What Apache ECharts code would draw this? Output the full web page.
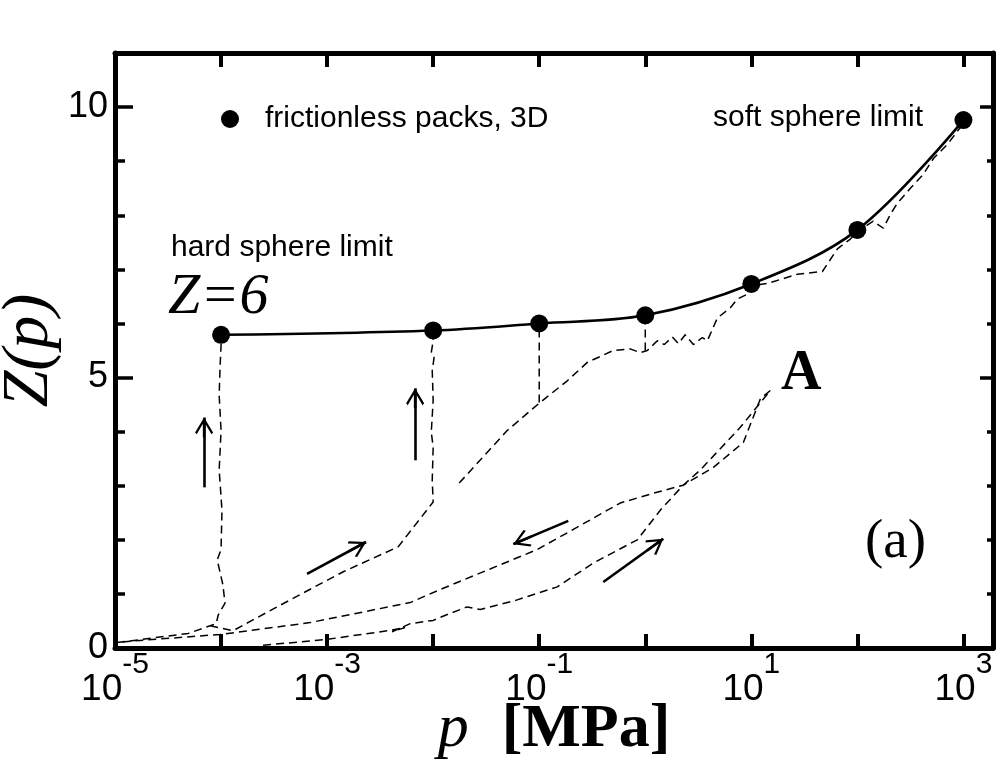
<!DOCTYPE html>
<html>
<head>
<meta charset="utf-8">
<script src="https://cdn.jsdelivr.net/npm/echarts@6/dist/echarts.min.js"></script>
<style>
  html, body { margin: 0; padding: 0; background: #fff; }
  #chart { width: 1002px; height: 766px; }
</style>
</head>
<body>
<div id="chart"></div>
<script>
// values: [p in MPa, Z]
const frictionless = [[1e-4, 5.79], [1e-2, 5.87], [1e-1, 6.0], [1, 6.15], [10, 6.73], [100, 7.73], [1000, 9.76]];

const hardBranch = [
  [1.045e-5, 0.10], [4.9e-5, 0.27], [7.1e-5, 0.38], [9.0e-5, 0.45], [9.4e-5, 0.61],
  [1.09e-4, 0.83], [1.04e-4, 1.17], [9.2e-5, 1.63], [1.0e-4, 1.82], [1.02e-4, 2.55],
  [9.6e-5, 3.29], [1.0e-4, 4.02], [9.6e-5, 4.67], [9.8e-5, 5.22], [1.0e-4, 5.59], [1.0e-4, 5.76]
];

const branchB = [
  [7.9e-5, 0.41], [1.3e-4, 0.32], [3.37e-4, 0.76], [1.42e-3, 1.41], [4.68e-3, 1.87],
  [1.0e-2, 2.70], [9.8e-3, 3.10], [1.0e-2, 3.71], [9.6e-3, 3.99], [1.0e-2, 4.58],
  [9.8e-3, 5.13], [1.02e-2, 5.37], [9.6e-3, 5.46], [1.0e-2, 5.68], [1.0e-2, 5.85]
];

const branchC = [
  [1.76e-2, 3.05], [4.99e-2, 4.02], [0.102, 4.54], [0.184, 4.94], [0.284, 5.28],
  [0.499, 5.50], [0.721, 5.53], [0.897, 5.46], [1.045, 5.50], [1.30, 5.68],
  [1.51, 5.61], [1.80, 5.75], [2.05, 5.63], [2.38, 5.79], [2.84, 5.61],
  [3.45, 5.74], [3.85, 5.68], [4.78, 6.10], [6.34, 6.29], [7.38, 6.45],
  [9.17, 6.54], [10.2, 6.70], [14.2, 6.74], [27.2, 6.91], [46.8, 6.96],
  [64.8, 7.38], [85.9, 7.56], [102, 7.71], [141, 7.89], [176, 7.76],
  [205, 8.02], [238, 8.22], [316, 8.50], [420, 8.76], [521, 9.05],
  [706, 9.31], [1000, 9.70]
];

const jumpAt01 = [[0.1, 4.54], [0.1, 5.85]];
const jumpAt1 = [[1.0, 5.50], [1.0, 6.05]];

const loopUp = [
  [2.49e-4, 0.05], [1.0e-3, 0.16], [3.76e-3, 0.32], [5.44e-3, 0.38], [4.1e-3, 0.30],
  [6.07e-3, 0.45], [1.0e-2, 0.51], [1.36e-2, 0.62], [2.09e-2, 0.76], [2.78e-2, 0.71],
  [6.2e-2, 0.89], [0.148, 1.13], [0.323, 1.57], [0.841, 2.00], [1.39, 2.55],
  [2.28, 3.01], [3.30, 3.29], [7.87, 4.08], [15.1, 4.76]
];

const loopDown = [
  [15.1, 4.76], [12.2, 4.61], [8.41, 3.80], [4.39, 3.34], [2.28, 3.01],
  [1.19, 2.86], [0.58, 2.68], [0.184, 2.13], [9.57e-2, 1.82], [1.16e-2, 1.08],
  [6.07e-3, 0.84], [6.92e-4, 0.47], [9.78e-5, 0.25], [1.72e-5, 0.14], [1.045e-5, 0.10]
];

// arrows: [tail, tip]
const arrows = [
  [[6.92e-5, 2.97], [6.92e-5, 4.26]],
  [[6.76e-3, 3.47], [6.76e-3, 4.80]],
  [[6.47e-4, 1.37], [2.33e-3, 1.96]],
  [[0.188, 2.35], [0.0569, 1.92]],
  [[0.402, 1.22], [1.48, 2.02]]
];

const xLabelExponents = [-5, -3, -1, 1, 3];
const yLabels = [0, 5, 10];

const SANS = "Liberation Sans, Arial, sans-serif";
const SERIF = "Liberation Serif, Times New Roman, serif";
const ARROW = "path://M10,0 L20,15 L18.2,16.8 L10,4.2 L1.8,16.8 L0,15 Z M8.6,1 L11.4,1 L11.4,20 L8.6,20 Z";

function xLabel(value) {
  const lg = Math.log10(value);
  const e = Math.round(lg);
  if (Math.abs(lg - e) > 1e-6 || !xLabelExponents.includes(e)) return "";
  return "{b|10}{s|" + e + "}";
}

function dashed(data) {
  return {
    type: "line",
    data,
    symbol: "none",
    silent: true,
    z: 2,
    lineStyle: { color: "#000", width: 1.5, type: [8, 5] },
  };
}

function xAxisBase(position) {
  return {
    type: "log",
    logBase: 10,
    min: 1e-5,
    max: 1900,
    position,
    axisLine: { show: true, onZero: false, lineStyle: { color: "#000", width: 5 } },
    axisTick: { show: true, inside: true, length: 14, lineStyle: { color: "#000", width: 4 } },
    minorTick: { show: false },
    splitLine: { show: false },
  };
}

function yAxisBase(position, interval, tickLen, showLine) {
  return {
    type: "value",
    min: 0,
    max: 11,
    interval,
    position,
    axisLine: { show: showLine, lineStyle: { color: "#000", width: 5 } },
    axisTick: { show: true, inside: true, length: tickLen, lineStyle: { color: "#000", width: 3.5 } },
    axisLabel: { show: false },
    splitLine: { show: false },
  };
}

const bottomX = xAxisBase("bottom");
bottomX.axisLabel = {
  show: true,
  margin: 2,
  formatter: xLabel,
  rich: {
    b: { fontFamily: SANS, fontSize: 37, color: "#000", lineHeight: 58, verticalAlign: "bottom" },
    s: { fontFamily: SANS, fontSize: 30, color: "#000", lineHeight: 30, verticalAlign: "top" },
  },
};
bottomX.name = "{i|p}  {b|[MPa]}";
bottomX.nameLocation = "middle";
bottomX.nameGap = 49;
bottomX.nameMoveOverlap = false;
bottomX.nameTextStyle = {
  fontFamily: SERIF,
  fontSize: 66,
  color: "#000",
  rich: {
    i: { fontFamily: SERIF, fontStyle: "italic", fontSize: 62, color: "#000" },
    b: { fontFamily: SERIF, fontWeight: "bold", fontSize: 62, color: "#000" },
  },
};

const topX = xAxisBase("top");
topX.axisLabel = { show: false };

const leftMajor = yAxisBase("left", 5, 18, true);
leftMajor.axisLabel = {
  show: true,
  margin: 7,
  fontFamily: SANS,
  fontSize: 36,
  color: "#000",
  formatter: (v) => (yLabels.includes(v) ? String(v) : ""),
};
leftMajor.name = "Z(p)";
leftMajor.nameLocation = "middle";
leftMajor.nameGap = 52;
leftMajor.nameMoveOverlap = false;
leftMajor.nameTextStyle = { fontFamily: SERIF, fontStyle: "italic", fontSize: 66, color: "#000" };

const option = {
  animation: false,
  backgroundColor: "#fff",
  grid: { left: 115, right: 9, top: 53, bottom: 118, containLabel: false, outerBoundsMode: "none" },
  legend: {
    data: ["frictionless packs, 3D"],
    left: 221,
    top: 104,
    padding: 0,
    icon: "circle",
    itemWidth: 18,
    itemHeight: 18,
    selectedMode: false,
    textStyle: { fontFamily: SANS, fontSize: 30, color: "#000", lineHeight: 18, padding: [0, 0, 0, 21] },
  },
  xAxis: [bottomX, topX],
  yAxis: [
    leftMajor,
    yAxisBase("left", 1, 10, false),
    yAxisBase("right", 5, 13, true),
    yAxisBase("right", 1, 6, false),
  ],
  graphic: [
    { type: "text", x: 171, y: 248, silent: true,
      style: { text: "hard sphere limit", font: "30px " + SANS, fill: "#000", textAlign: "left", textVerticalAlign: "middle" } },
    { type: "text", x: 168, y: 298, silent: true,
      style: { text: "Z=6", font: "italic 58px " + SERIF, fill: "#000", textAlign: "left", textVerticalAlign: "middle" } },
    { type: "text", x: 713, y: 118, silent: true,
      style: { text: "soft sphere limit", font: "30px " + SANS, fill: "#000", textAlign: "left", textVerticalAlign: "middle" } },
    { type: "text", x: 781, y: 375, silent: true,
      style: { text: "A", font: "bold 56px " + SERIF, fill: "#000", textAlign: "left", textVerticalAlign: "middle" } },
    { type: "text", x: 865, y: 543, silent: true,
      style: { text: "(a)", font: "55px " + SERIF, fill: "#000", textAlign: "left", textVerticalAlign: "middle" } },
  ],
  series: [
    dashed(hardBranch),
    dashed(branchB),
    dashed(branchC),
    dashed(jumpAt01),
    dashed(jumpAt1),
    dashed(loopUp),
    dashed(loopDown),
    {
      name: "frictionless packs, 3D",
      type: "line",
      data: frictionless,
      smooth: 0.35,
      symbol: "circle",
      symbolSize: 18,
      silent: true,
      z: 5,
      itemStyle: { color: "#000" },
      lineStyle: { color: "#000", width: 2.6, type: "solid" },
      markLine: {
        silent: true,
        animation: false,
        symbol: ["none", ARROW],
        symbolSize: [18, 20],
        symbolOffset: [[0, 0], [0, 10]],
        label: { show: false },
        lineStyle: { color: "#000", width: 2.6, type: "solid" },
        emphasis: { disabled: true },
        data: arrows.map((a) => [{ coord: a[0] }, { coord: a[1] }]),
      },
    },
  ],
};

const chart = echarts.init(document.getElementById("chart"), null, { renderer: "canvas" });
chart.setOption(option);
</script>
</body>
</html>
